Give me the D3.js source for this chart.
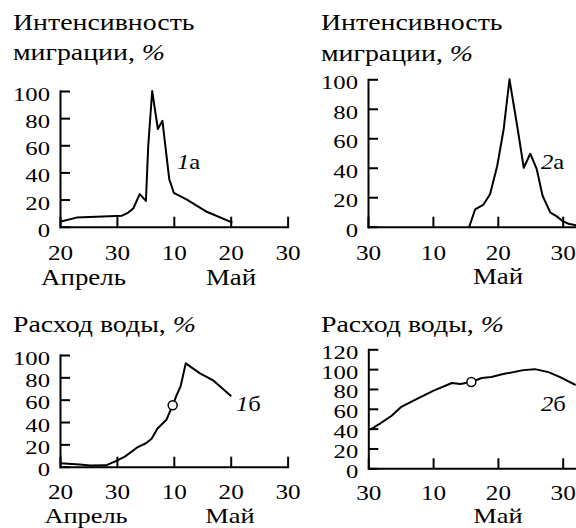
<!DOCTYPE html>
<html lang="ru">
<head>
<meta charset="UTF-8">
<title>Интенсивность миграции и расход воды</title>
<script src="https://d3js.org/d3.v7.min.js"></script>
<style>
  body { margin: 0; background: #fff; }
  svg { display: block; }
</style>
</head>
<body>
<svg id="chart" width="576" height="528"></svg>
<script>
  // days: panel 1 counted from 20 April, panel 2 from 30 April
  const days1a = [0, 2.9, 10.9, 12, 12.9, 14, 15.1, 15.5, 16.2, 17.2, 18, 19.2, 20, 22.3, 25.8, 30.3];
  const migr1a = [3.7, 6.7, 8.1, 10.4, 13.6, 24, 19, 59, 100, 72, 78, 35, 25, 20, 11, 3];

  const days2a = [15.6, 16.5, 17.8, 18.8, 19.9, 20.9, 21.8, 23, 24, 25, 26, 26.9, 28.1, 29.1, 29.9, 30.9, 32.1];
  const migr2a = [0, 11.7, 15, 22, 41, 66, 100, 68, 40, 49.5, 39, 21, 9.5, 7, 4, 2, 1];

  const days1b = [0, 3.5, 5.3, 8.1, 10, 11.4, 13.5, 15.1, 16.1, 17.1, 18.7, 19.8, 20.5, 21.2, 22.1, 24.6, 27, 30.1];
  const flow1b = [3, 2, 1, 1.2, 5.4, 9, 17, 21, 25, 34, 42, 55, 64, 72, 92.5, 83.6, 77, 63];
  const mark1b = [19.8, 55];

  const days2b = [0.3, 1.8, 3.6, 5.1, 6.9, 10, 12.9, 14.2, 15.9, 17.5, 19, 20.8, 22.4, 23.9, 25.7, 27.8, 29.6, 32];
  const flow2b = [39, 45, 53, 62, 68, 78, 86, 85, 87, 91, 92, 95, 97, 99, 100, 97, 92, 84];
  const mark2b = [15.9, 87];

  const xTicks1 = [0, 10, 20, 30, 40];
  const xLabels1 = ["20", "30", "10", "20", "30"];
  const xTicks2 = [0, 10, 20, 30];
  const xLabels2 = ["30", "10", "20", "30"];
  const yTicksA = [0, 20, 40, 60, 80, 100];
  const yTicks2b = [0, 20, 40, 60, 80, 100, 120];

  const SERIF = '"Liberation Serif", "Times New Roman", Tinos, "DejaVu Serif", "Noto Serif", serif';

  const svg = d3.select("#chart").attr("font-family", SERIF);

  // text with optional italic parts, widened like the original typeface
  function txt(x, y, parts, size, sx, anchor) {
    const t = svg.append("text")
      .attr("font-family", SERIF)
      .attr("transform", `translate(${x},${y}) scale(${sx},1)`)
      .attr("font-size", size)
      .attr("text-anchor", anchor || "start");
    parts.forEach(p => t.append("tspan").attr("font-style", p[1] ? "italic" : null).text(p[0]));
  }

  function panel(p) {
    const x = d3.scaleLinear().domain(p.xDomain).range(p.xRange);
    const y = d3.scaleLinear().domain(p.yDomain).range(p.yRange);
    const g = svg.append("g");

    const xAxis = g.append("g").attr("transform", `translate(0,${p.yRange[0]})`)
      .call(d3.axisBottom(x).tickValues(p.xTicks).tickSizeInner(-10).tickSizeOuter(0)
        .tickFormat((d, i) => p.xLabels[i]));
    const yAxis = g.append("g").attr("transform", `translate(${p.xRange[0]},0)`)
      .call(d3.axisLeft(y).tickValues(p.yTicks).tickSizeInner(-10).tickSizeOuter(0));

    [xAxis, yAxis].forEach(a => {
      a.attr("font-family", SERIF).attr("font-size", null);
      a.select(".domain").attr("stroke-width", 2).attr("stroke-linecap", "square");
      a.selectAll(".tick line").attr("stroke-width", 2);
    });
    xAxis.selectAll(".tick text").attr("y", null).attr("dy", null)
      .attr("font-size", 21).attr("transform", `translate(0,${p.xLabelDy}) scale(1.2,1)`);
    yAxis.selectAll(".tick text").attr("x", null).attr("dy", null)
      .attr("font-size", 19).attr("transform", `translate(-10,${p.yLabelDy}) scale(1.3,1)`);

    const line = d3.line().x(d => x(d[0])).y(d => y(d[1]));
    g.append("path")
      .datum(d3.zip(p.days, p.vals))
      .attr("fill", "none")
      .attr("stroke", "#000")
      .attr("stroke-width", 2)
      .attr("stroke-linejoin", "round")
      .attr("d", line);

    if (p.mark) {
      g.append("circle")
        .attr("cx", x(p.mark[0]))
        .attr("cy", y(p.mark[1]))
        .attr("r", 4.5)
        .attr("fill", "#fff")
        .attr("stroke", "#000")
        .attr("stroke-width", 1.5);
    }
  }

  panel({ xDomain: [0, 40], xRange: [60, 287.6], yDomain: [0, 100], yRange: [226.7, 91],
    xTicks: xTicks1, xLabels: xLabels1, yTicks: yTicksA, xLabelDy: 33, yLabelDy: 9.5, days: days1a, vals: migr1a });
  panel({ xDomain: [0, 32.2], xRange: [368, 368 + 32.2 * 6.49], yDomain: [0, 100], yRange: [226.7, 79.3],
    xTicks: xTicks2, xLabels: xLabels2, yTicks: yTicksA, xLabelDy: 33, yLabelDy: 9.5, days: days2a, vals: migr2a });
  panel({ xDomain: [0, 40], xRange: [60, 287.6], yDomain: [0, 100], yRange: [466.7, 355],
    xTicks: xTicks1, xLabels: xLabels1, yTicks: yTicksA, xLabelDy: 32, yLabelDy: 9, days: days1b, vals: flow1b, mark: mark1b });
  panel({ xDomain: [0, 32.2], xRange: [368.3, 368.3 + 32.2 * 6.48], yDomain: [0, 120], yRange: [468.3, 349.3],
    xTicks: xTicks2, xLabels: xLabels2, yTicks: yTicks2b, xLabelDy: 32, yLabelDy: 9, days: days2b, vals: flow2b, mark: mark2b });

  // titles
  txt(13, 30, [["Интенсивность"]], 24, 1.16);
  txt(13, 60, [["миграции, "], ["%", true]], 24, 1.16);
  txt(321, 30, [["Интенсивность"]], 24, 1.16);
  txt(321, 61, [["миграции, "], ["%", true]], 24, 1.16);
  txt(13, 332, [["Расход воды, "], ["%", true]], 24, 1.16);
  txt(321, 332, [["Расход воды, "], ["%", true]], 24, 1.16);

  // month labels
  txt(83.5, 285, [["Апрель"]], 24, 1.12, "middle");
  txt(231, 285, [["Май"]], 24, 1.12, "middle");
  txt(498, 284, [["Май"]], 24, 1.12, "middle");
  txt(86, 523, [["Апрель"]], 22, 1.2, "middle");
  txt(230, 523, [["Май"]], 22, 1.2, "middle");
  txt(498, 523, [["Май"]], 22, 1.2, "middle");

  // series labels
  txt(177, 169, [["1", true], ["а"]], 22, 1.12);
  txt(541, 169, [["2", true], ["а"]], 22, 1.12);
  txt(236, 411, [["1", true], ["б"]], 22, 1.12);
  txt(541, 411, [["2", true], ["б"]], 22, 1.12);
</script>
</body>
</html>
